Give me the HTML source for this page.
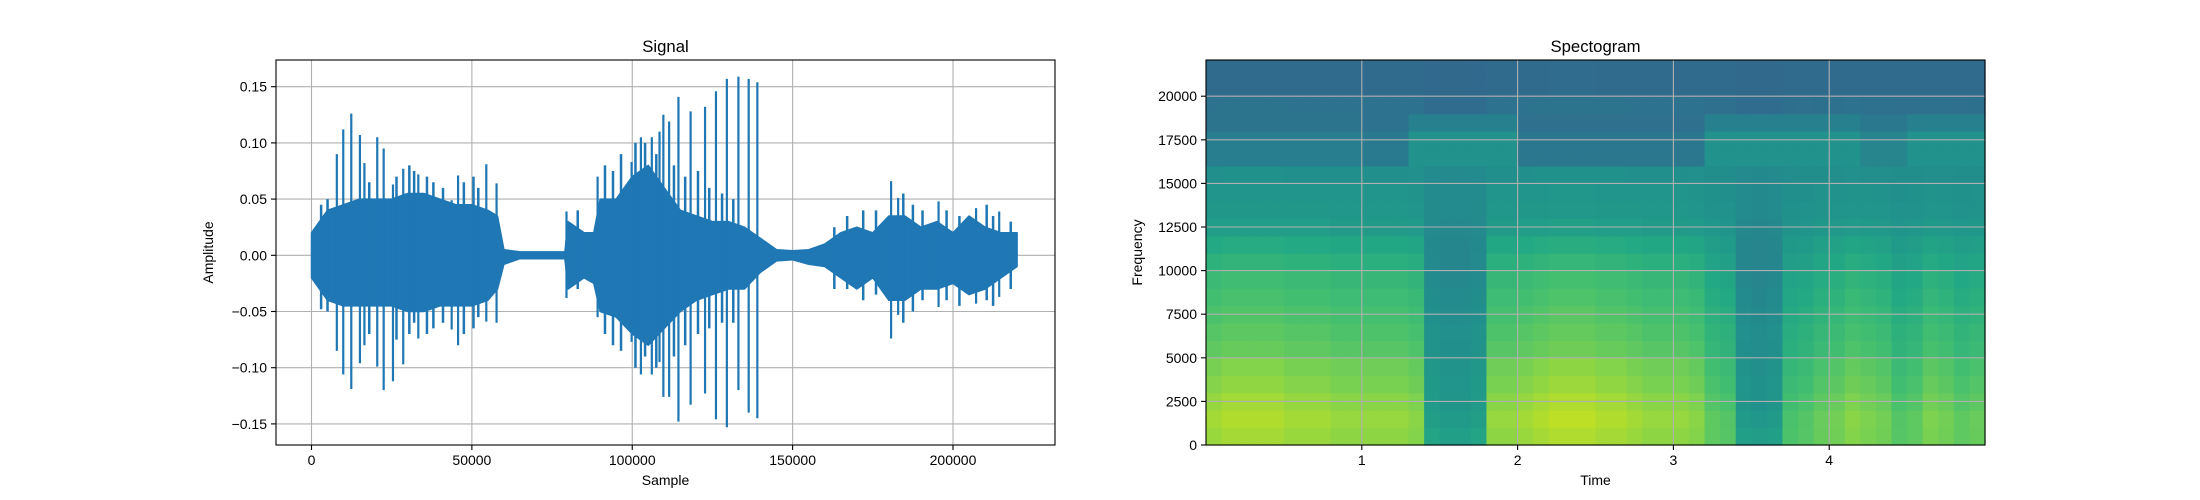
<!DOCTYPE html>
<html><head><meta charset="utf-8"><style>
html,body{margin:0;padding:0;background:#fff;}
svg{display:block;font-family:"Liberation Sans",sans-serif;}
</style></head><body>
<svg id="fig" width="2200" height="500" viewBox="0 0 2200 500">
<rect width="2200" height="500" fill="#fff"/>
<g id="sig"></g>
<g id="spec"></g>
</svg>
<script>
// ---- Signal data ----
const envSamples = [0,5000,10000,15000,20000,25000,30000,35000,40000,45000,50000,55000,58000,60000,65000,70000,75000,79000,80000,85000,88000,90000,95000,100000,105000,110000,115000,120000,125000,130000,135000,140000,145000,150000,155000,160000,165000,170000,175000,180000,185000,190000,195000,200000,205000,210000,215000,220000];
const envUpper = [0.02,0.04,0.045,0.05,0.05,0.05,0.055,0.055,0.05,0.045,0.045,0.04,0.035,0.005,0.003,0.003,0.003,0.003,0.03,0.02,0.02,0.05,0.05,0.07,0.08,0.06,0.04,0.035,0.03,0.03,0.025,0.015,0.005,0.004,0.005,0.01,0.02,0.025,0.02,0.035,0.035,0.025,0.03,0.02,0.035,0.025,0.02,0.02];
const envLower = [-0.02,-0.04,-0.045,-0.045,-0.045,-0.045,-0.05,-0.05,-0.045,-0.045,-0.045,-0.04,-0.03,-0.008,-0.003,-0.003,-0.003,-0.003,-0.03,-0.02,-0.025,-0.05,-0.055,-0.07,-0.08,-0.065,-0.05,-0.04,-0.035,-0.03,-0.03,-0.015,-0.005,-0.004,-0.008,-0.01,-0.02,-0.03,-0.02,-0.04,-0.04,-0.03,-0.03,-0.025,-0.035,-0.03,-0.02,-0.01];
const spikeSamples = [7900,9900,12400,15100,16500,20500,22500,25400,28600,33300,43700,45700,54500,57700,79500,89200,99800,102700,106100,108500,109700,111500,114400,118200,122700,126100,129500,133100,136300,139000,180700,182900,195500,207200,214400];
const spikeTop = [0.09,0.112,0.126,0.107,0.082,0.105,0.095,0.063,0.077,0.072,0.049,0.071,0.081,0.064,0.039,0.07,0.083,0.105,0.105,0.11,0.125,0.119,0.141,0.128,0.132,0.146,0.157,0.159,0.157,0.154,0.066,0.051,0.048,0.042,0.039];
const spikeBottom = [-0.085,-0.106,-0.119,-0.096,-0.08,-0.099,-0.12,-0.112,-0.097,-0.074,-0.066,-0.08,-0.059,-0.06,-0.038,-0.055,-0.077,-0.106,-0.106,-0.095,-0.126,-0.126,-0.148,-0.133,-0.123,-0.146,-0.153,-0.12,-0.14,-0.145,-0.074,-0.053,-0.046,-0.043,-0.037];
const minorSamples = [3000,5000,18000,26500,30500,32000,36000,38000,41000,47500,50500,52000,83000,91500,94000,96500,101000,104000,107500,113000,116500,120500,124000,128000,131500,163000,167000,172000,176000,184500,187500,190500,198000,202000,210500,212500,218000];
const minorTop = [0.045,0.05,0.065,0.07,0.08,0.075,0.07,0.065,0.06,0.065,0.07,0.06,0.04,0.08,0.075,0.09,0.1,0.1,0.09,0.08,0.07,0.075,0.06,0.055,0.05,0.025,0.035,0.04,0.04,0.055,0.045,0.04,0.04,0.035,0.045,0.035,0.03];
const minorBottom = [-0.048,-0.05,-0.07,-0.075,-0.07,-0.06,-0.07,-0.065,-0.06,-0.07,-0.065,-0.055,-0.03,-0.07,-0.08,-0.085,-0.1,-0.09,-0.1,-0.09,-0.08,-0.07,-0.065,-0.06,-0.06,-0.03,-0.03,-0.04,-0.035,-0.06,-0.05,-0.04,-0.04,-0.045,-0.04,-0.045,-0.03];
const sigXTicks = [0,50000,100000,150000,200000];
const sigYTicks = [-0.15,-0.10,-0.05,0.00,0.05,0.10,0.15];

// ---- Spectrogram data ----
const specTicksX = [1,2,3,4];
const specTicksY = [0,2500,5000,7500,10000,12500,15000,17500,20000];
const colLoud = [0.9,0.95,0.95,0.95, 0.95,0.9,0.9,0.9,0.85,0.85, 0.85,0.85,0.85,0.8, 0.1,0.05,0.05,0.1, 0.85,0.85,0.9,0.95, 1,1,1,0.95,0.95,0.9, 0.85,0.85,0.85,0.8, 0.6,0.55, 0.05,0,0.05, 0.5,0.55,0.65, 0.7,0.8,0.75,0.7, 0.55,0.6, 0.75,0.7, 0.6,0.65];
const hfBand = [0.3,0.3,0.3,0.3,0.3,0.3,0.3,0.3,0.3,0.3, 0.2,0.2,0.2, 0.9,0.9,0.9,0.9,0.9,0.9,0.9, 0.1,0.1,0.1,0.1,0.1,0.1,0.1,0.1,0.1,0.1,0.1,0.1, 0.9,0.9,0.9,0.9,0.9,0.9,0.9,0.9,0.9,0.9, 0.5,0.5,0.5, 0.9,0.9,0.9,0.9,0.9];
const rowLoud = [0.88,0.9,0.88,0.85,0.83,0.78,0.76,0.74,0.72,0.7,0.66,0.62,0.56,0.53,0.52,0.5,0.5,0.5,0.45,0.38,0.35,0.35];
const rowQuiet = [0.55,0.52,0.5,0.5,0.49,0.48,0.48,0.47,0.46,0.45,0.45,0.45,0.46,0.47,0.47,0.47,0.38,0.38,0.36,0.35,0.34,0.34];

const NS='http://www.w3.org/2000/svg';
function el(tag,attrs,parent,txt){const e=document.createElementNS(NS,tag);for(const k in attrs)e.setAttribute(k,attrs[k]);if(txt!==undefined)e.textContent=txt;parent.appendChild(e);return e;}

// ===== Signal =====
const S=document.getElementById('sig');
const sL=276,sR=1055,sT=60,sB=445;
const sx=v=>311.5+v*(641.5/200000);
const sy=v=>255.3-v*(56.2/0.05);
for(const t of sigXTicks){const g=el('line',{x1:sx(t),x2:sx(t),y1:sT,y2:sB,stroke:'#b0b0b0','stroke-width':1.1},S);

}
for(const t of sigYTicks){const g=el('line',{x1:sL,x2:sR,y1:sy(t),y2:sy(t),stroke:'#b0b0b0','stroke-width':1.1},S);

}
let d='';
envSamples.forEach((s,i)=>{d+=(i?'L':'M')+sx(s).toFixed(1)+','+sy(envUpper[i]).toFixed(1);});
for(let i=envSamples.length-1;i>=0;i--)d+='L'+sx(envSamples[i]).toFixed(1)+','+sy(envLower[i]).toFixed(1);
const body=el('path',{d:d+'Z',fill:'#1f77b4',stroke:'#1f77b4','stroke-width':1.5,'stroke-linejoin':'round'},S);


minorSamples.forEach((s,i)=>{const l=el('line',{x1:sx(s),x2:sx(s),y1:sy(minorTop[i]),y2:sy(minorBottom[i]),stroke:'#1f77b4','stroke-width':2.5},S);

});
spikeSamples.forEach((s,i)=>{const l=el('line',{x1:sx(s),x2:sx(s),y1:sy(spikeTop[i]),y2:sy(spikeBottom[i]),stroke:'#1f77b4','stroke-width':2.2},S);

});
const f1=el('rect',{x:sL,y:sT,width:sR-sL,height:sB-sT,fill:'none',stroke:'#000','stroke-width':1.1},S);


for(const t of sigXTicks){el('line',{x1:sx(t),x2:sx(t),y1:sB,y2:sB+5,stroke:'#000','stroke-width':1.1},S);
const tx=el('text',{x:sx(t),y:sB+20,'font-size':14,'text-anchor':'middle'},S,String(t));

}
for(const t of sigYTicks){el('line',{x1:sL-5,x2:sL,y1:sy(t),y2:sy(t),stroke:'#000','stroke-width':1.1},S);
const tx=el('text',{x:sL-9,y:sy(t)+5,'font-size':14,'text-anchor':'end'},S,(t<0?'\u2212':'')+Math.abs(t).toFixed(2));

}
let t1=el('text',{x:(sL+sR)/2,y:52,'font-size':16.7,'text-anchor':'middle'},S,'Signal');


t1=el('text',{x:(sL+sR)/2,y:485,'font-size':14,'text-anchor':'middle'},S,'Sample');


t1=el('text',{x:0,y:0,'font-size':14,'text-anchor':'middle',transform:'translate(213,'+((sT+sB)/2)+') rotate(-90)'},S,'Amplitude');



// ===== Spectrogram =====
const P=document.getElementById('spec');
const pL=1206,pR=1985,pT=60,pB=445;
const px=v=>pL+v*155.8;
const py=v=>pB-v*(43.6/2500);
const stops=[[68,1,84],[72,36,117],[65,68,135],[53,95,141],[42,120,142],[33,145,140],[34,168,132],[68,191,112],[122,209,81],[189,223,38],[253,231,37]];
function viridis(v){v=Math.max(0,Math.min(1,v))*10;const i=Math.min(9,Math.floor(v)),f=v-i;const a=stops[i],b=stops[i+1];
return 'rgb('+a.map((c,k)=>Math.round(c+(b[k]-c)*f)).join(',')+')';}
const nC=colLoud.length,nR=rowLoud.length;
for(let c=0;c<nC;c++){for(let r=0;r<nR;r++){
let v=rowQuiet[r]+colLoud[c]*(rowLoud[r]-rowQuiet[r]);
if(r>=16&&r<=18)v=rowQuiet[r]+hfBand[c]*(r==18?0.08:0.14);
const t0=c*5/nC,t1b=(c+1)*5/nC,f0=r*1000,f1b=Math.min(22050,(r+1)*1000+(r==21?50:0));
const rc=el('rect',{x:px(t0).toFixed(2),y:py(f1b).toFixed(2),width:(px(t1b)-px(t0)+0.6).toFixed(2),height:(py(f0)-py(f1b)+0.6).toFixed(2),fill:viridis(v)},P);

}}
for(const t of specTicksX){const g=el('line',{x1:px(t),x2:px(t),y1:pT,y2:pB,stroke:'#b0b0b0','stroke-width':1.1},P);

}
for(const t of specTicksY){const g=el('line',{x1:pL,x2:pR,y1:py(t),y2:py(t),stroke:'#b0b0b0','stroke-width':1.1},P);

}
const f2=el('rect',{x:pL,y:pT,width:pR-pL,height:pB-pT,fill:'none',stroke:'#000','stroke-width':1.1},P);


for(const t of specTicksX){el('line',{x1:px(t),x2:px(t),y1:pB,y2:pB+5,stroke:'#000','stroke-width':1.1},P);
const tx=el('text',{x:px(t),y:pB+20,'font-size':14,'text-anchor':'middle'},P,String(t));

}
for(const t of specTicksY){el('line',{x1:pL-5,x2:pL,y1:py(t),y2:py(t),stroke:'#000','stroke-width':1.1},P);
const tx=el('text',{x:pL-9,y:py(t)+5,'font-size':14,'text-anchor':'end'},P,String(t));

}
t1=el('text',{x:(pL+pR)/2,y:52,'font-size':16.7,'text-anchor':'middle'},P,'Spectogram');


t1=el('text',{x:(pL+pR)/2,y:485,'font-size':14,'text-anchor':'middle'},P,'Time');


t1=el('text',{x:0,y:0,'font-size':14,'text-anchor':'middle',transform:'translate(1142,'+((pT+pB)/2)+') rotate(-90)'},P,'Frequency');


</script>
</body></html>
